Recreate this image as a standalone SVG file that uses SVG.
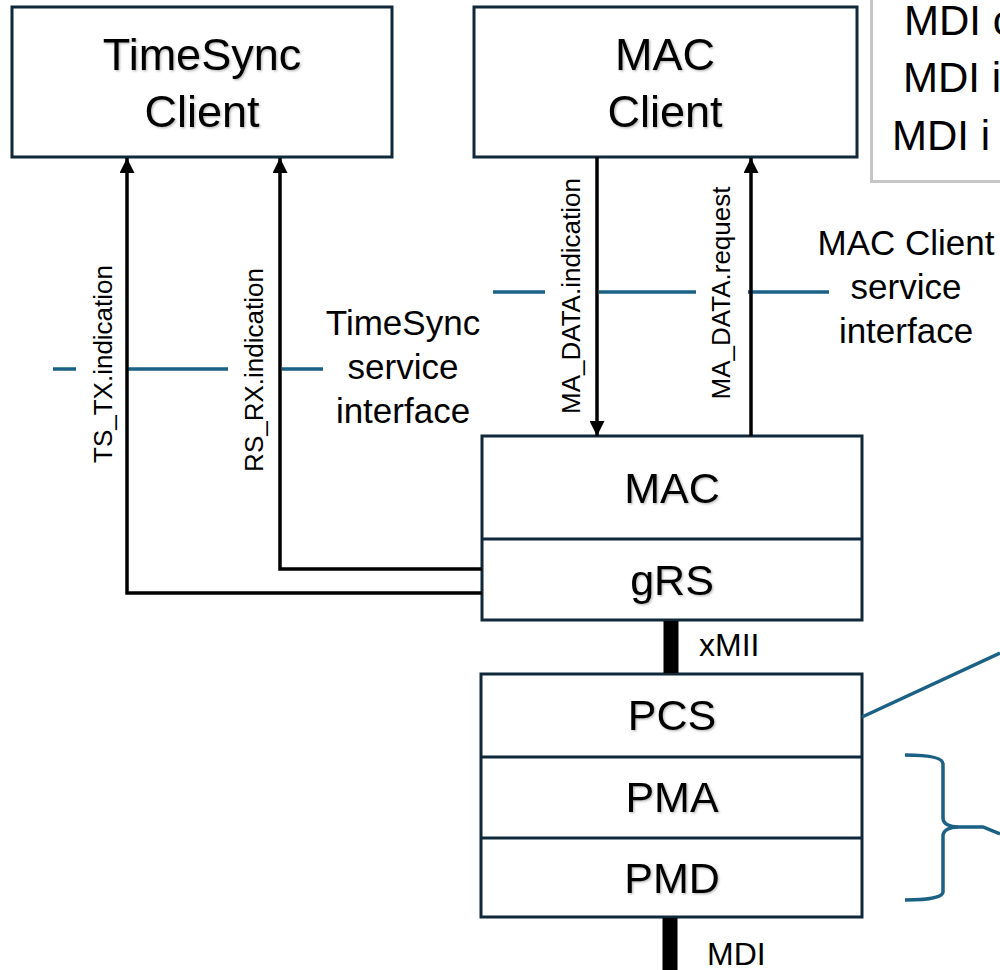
<svg xmlns="http://www.w3.org/2000/svg" width="1000" height="970" viewBox="0 0 1000 970">
  <defs>
    <style>
      .box { fill: #ffffff; stroke: #10293a; stroke-width: 3; }
      .div { stroke: #10293a; stroke-width: 3; fill: none; }
      .big { font-family: "Liberation Sans", Arial, sans-serif; font-size: 45px; fill: #000; text-anchor: middle; }
      .layer { font-family: "Liberation Sans", Arial, sans-serif; font-size: 43px; fill: #000; text-anchor: middle; }
      .lbl { font-family: "Liberation Sans", Arial, sans-serif; font-size: 35px; fill: #000; text-anchor: middle; }
      .vlbl { font-family: "Liberation Sans", Arial, sans-serif; font-size: 26px; fill: #000; text-anchor: middle; }
      .bus { font-family: "Liberation Sans", Arial, sans-serif; font-size: 32px; fill: #000; }
      .note { font-family: "Liberation Sans", Arial, sans-serif; font-size: 42px; fill: #000; }
      .wire { stroke: #000; stroke-width: 3.5; fill: none; }
      .iface { stroke: #1b6186; stroke-width: 3.5; fill: none; }
      .thick { stroke: #000; stroke-width: 15; }
    </style>
    <marker id="arrow" viewBox="0 0 15 15" refX="15" refY="7.5" markerWidth="15" markerHeight="15" markerUnits="userSpaceOnUse" orient="auto">
      <path d="M0,0 L15,7.5 L0,15 z" fill="#000"/>
    </marker>
    <filter id="soft" x="-10%" y="-20%" width="130%" height="150%">
      <feDropShadow dx="1.2" dy="1.2" stdDeviation="0.8" flood-color="#000" flood-opacity="0.3"/>
    </filter>
  </defs>

  <rect width="1000" height="970" fill="#ffffff"/>

  <!-- note box, partly off the right edge -->
  <g id="mdi-note">
    <rect x="871.5" y="-10" width="200" height="191.5" fill="#ffffff" stroke="#c6c6c6" stroke-width="3"/>
    <text class="note" x="904" y="35">MDI c</text>
    <text class="note" x="903" y="92">MDI i</text>
    <text class="note" x="892" y="150">MDI i</text>
  </g>

  <g id="timesync-client">
    <rect class="box" x="12" y="7" width="380" height="150"/>
    <text class="big" x="202" y="70" filter="url(#soft)">TimeSync</text>
    <text class="big" x="202" y="127" filter="url(#soft)">Client</text>
  </g>

  <g id="mac-client">
    <rect class="box" x="474" y="7" width="383" height="150"/>
    <text class="big" x="665" y="70" filter="url(#soft)">MAC</text>
    <text class="big" x="665" y="127" filter="url(#soft)">Client</text>
  </g>

  <!-- service interface markers -->
  <g id="timesync-interface">
    <path class="iface" d="M53,369 H76 M128,369 H228 M282,369 H323"/>
    <text class="lbl" x="403" y="335">TimeSync</text>
    <text class="lbl" x="403" y="379">service</text>
    <text class="lbl" x="403" y="423">interface</text>
  </g>

  <g id="mac-client-interface">
    <path class="iface" d="M493,292 H545 M599,292 H696 M748,292 H829"/>
    <text class="lbl" x="906" y="255">MAC Client</text>
    <text class="lbl" x="906" y="299">service</text>
    <text class="lbl" x="906" y="343">interface</text>
  </g>

  <g id="mac">
    <rect class="box" x="482" y="436" width="380" height="184"/>
    <line class="div" x1="482" y1="539" x2="862" y2="539"/>
    <text class="layer" x="672" y="503" filter="url(#soft)">MAC</text>
  </g>

  <g id="grs">
    <text class="layer" x="672" y="595" filter="url(#soft)">gRS</text>
  </g>

  <g id="phy">
    <rect class="box" x="481" y="674" width="381" height="243"/>
    <line class="div" x1="481" y1="757" x2="862" y2="757"/>
    <line class="div" x1="481" y1="838" x2="862" y2="838"/>
    <text class="layer" x="672" y="730" filter="url(#soft)">PCS</text>
    <text class="layer" x="672" y="812" filter="url(#soft)">PMA</text>
    <text class="layer" x="672" y="893" filter="url(#soft)">PMD</text>
  </g>

  <!-- brace grouping PMA and PMD -->
  <g id="pma-pmd-brace">
    <path class="iface" d="M905,755 C925,755 943,757 943,764 L943,818 C943,824 950,827 958,827 C950,827 943,830 943,836 L943,892 C943,898 925,900 905,900"/>
  </g>

  <g id="connectors">
    <!-- primitives between clients and MAC / gRS -->
    <path class="wire" d="M482,593 H127 V158" marker-end="url(#arrow)"/>
    <path class="wire" d="M482,569 H280 V158" marker-end="url(#arrow)"/>
    <path class="wire" d="M597,157 V436" marker-end="url(#arrow)"/>
    <path class="wire" d="M751,436 V158" marker-end="url(#arrow)"/>

    <!-- xMII and MDI -->
    <line class="thick" x1="671" y1="621" x2="671" y2="673"/>
    <line class="thick" x1="670" y1="918" x2="670" y2="970"/>
    <text class="bus" x="699" y="656">xMII</text>
    <text class="bus" x="707" y="965">MDI</text>

    <!-- callout leaders -->
    <path class="iface" d="M862,717 L1000,653"/>
    <path class="iface" d="M957,827 L983,827 L1000,834"/>
  </g>

  <g id="primitive-labels">
    <text class="vlbl" transform="translate(112,364) rotate(-90)">TS_TX.indication</text>
    <text class="vlbl" transform="translate(263,370) rotate(-90)">RS_RX.indication</text>
    <text class="vlbl" transform="translate(580,296) rotate(-90)">MA_DATA.indication</text>
    <text class="vlbl" transform="translate(730,293) rotate(-90)">MA_DATA.request</text>
  </g>
</svg>
